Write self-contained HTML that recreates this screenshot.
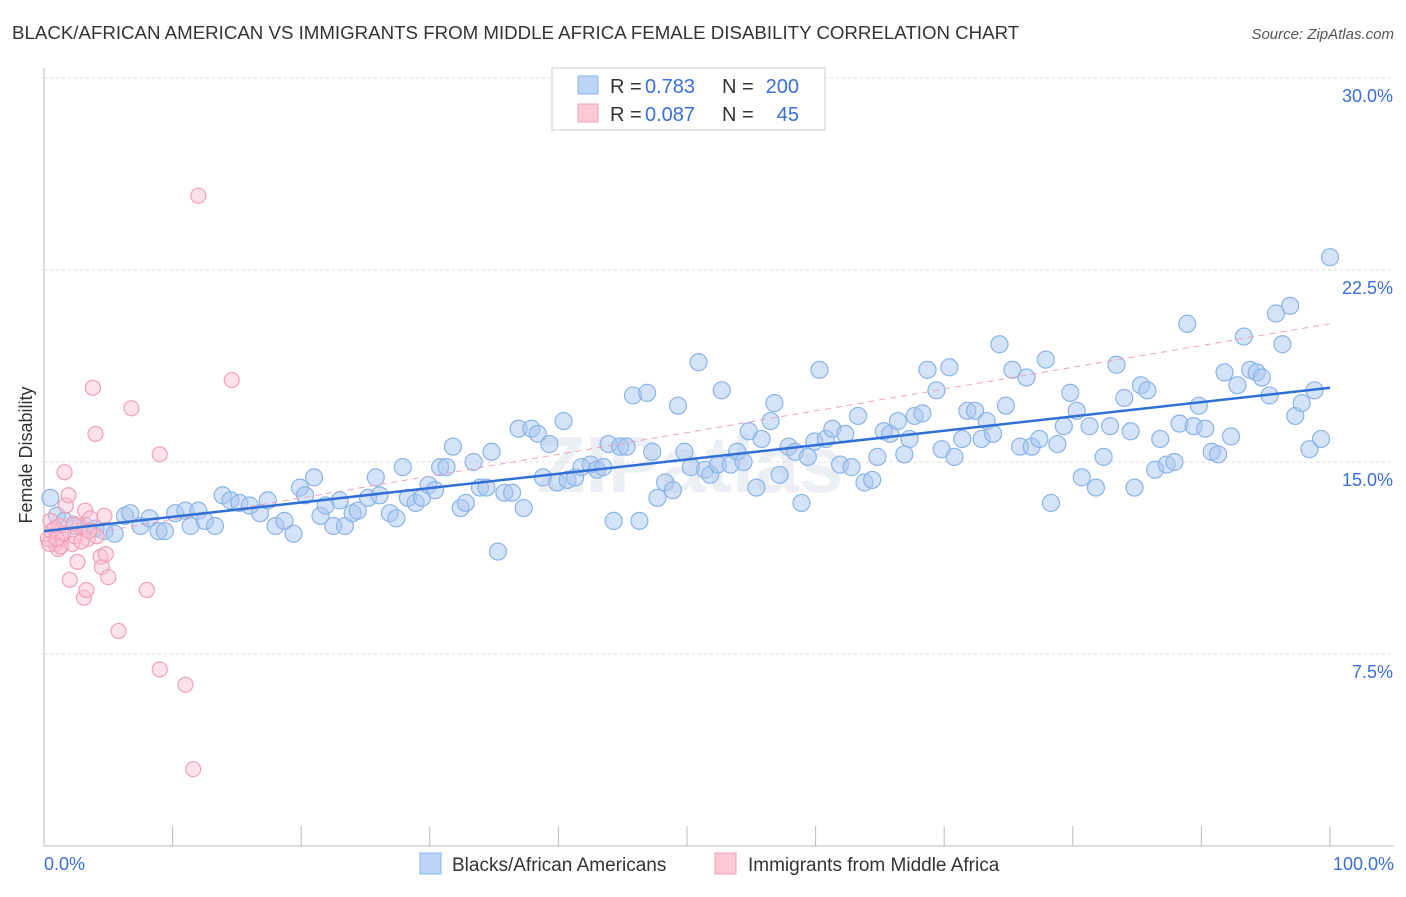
<!DOCTYPE html>
<html><head><meta charset="utf-8"><style>
body{margin:0;background:#fff;font-family:"Liberation Sans",sans-serif;}
</style></head><body>
<svg id="chart" width="1406" height="892" xmlns="http://www.w3.org/2000/svg">
<text x="12" y="39" font-size="18.7" fill="#333">BLACK/AFRICAN AMERICAN VS IMMIGRANTS FROM MIDDLE AFRICA FEMALE DISABILITY CORRELATION CHART</text>
<text x="1394" y="39" font-size="15" fill="#555" font-style="italic" text-anchor="end">Source: ZipAtlas.com</text>
<text x="32" y="455" font-size="18" fill="#333" text-anchor="middle" transform="rotate(-90 32 455)">Female Disability</text>
<text x="690" y="492" font-size="80" fill="#eceff3" text-anchor="middle" font-weight="bold">ZIPatlas</text>
<g id="grid"></g><g id="pts"></g><g id="lines"></g>
<g>
<rect x="552" y="68" width="273" height="62" fill="#fff" stroke="#ccc"/>
<rect x="578" y="76" width="20" height="18" fill="#bcd4f5" stroke="#8ab4e8"/>
<rect x="578" y="104" width="20" height="18" fill="#fbc8d6" stroke="#f0a0b8"/>
<text x="610" y="93" font-size="20" fill="#333">R = </text>
<text x="645" y="93" font-size="20" fill="#3a6fd8">0.783</text>
<text x="722" y="93" font-size="20" fill="#333">N =</text>
<text x="799" y="93" font-size="20" fill="#3a6fd8" text-anchor="end">200</text>
<text x="610" y="121" font-size="20" fill="#333">R = </text>
<text x="645" y="121" font-size="20" fill="#3a6fd8">0.087</text>
<text x="722" y="121" font-size="20" fill="#333">N =</text>
<text x="799" y="121" font-size="20" fill="#3a6fd8" text-anchor="end">45</text>
</g>
<g>
<rect x="420" y="853" width="21" height="21" fill="#bcd4f5" stroke="#8ab4e8"/>
<text x="452" y="871" font-size="19" fill="#333">Blacks/African Americans</text>
<rect x="715" y="853" width="21" height="21" fill="#fbc8d6" stroke="#f0a0b8"/>
<text x="748" y="871" font-size="19" fill="#333">Immigrants from Middle Africa</text>
</g>
</svg>
<script>
const yTicks=[7.5,15,22.5,30];
const xTickLabels=["0.0%","100.0%"];
const blueX=[0.5,1.0,1.6,2.4,3.2,4.0,4.7,5.5,6.3,6.7,7.5,8.2,8.9,9.4,10.2,11.0,11.4,12.0,12.5,13.3,13.9,14.5,15.2,16.0,16.8,17.4,18.0,18.7,19.4,19.9,20.3,21.0,21.5,21.9,22.5,23.0,23.4,24.0,24.4,25.2,25.8,26.1,26.9,27.4,27.9,28.3,28.9,29.4,29.9,30.4,30.8,31.3,31.8,32.4,32.8,33.4,33.9,34.4,34.8,35.3,35.8,36.4,36.9,37.3,37.9,38.4,38.8,39.3,39.9,40.4,40.7,41.3,41.8,42.5,43.0,43.5,43.9,44.3,44.8,45.3,45.8,46.3,46.9,47.3,47.7,48.3,48.9,49.3,49.8,50.3,50.9,51.4,51.8,52.4,52.7,53.4,53.9,54.4,54.8,55.4,55.8,56.5,56.8,57.2,57.9,58.4,58.9,59.4,59.9,60.3,60.8,61.3,61.9,62.3,62.8,63.3,63.8,64.4,64.8,65.3,65.8,66.4,66.9,67.3,67.7,68.3,68.7,69.4,69.8,70.4,70.8,71.4,71.8,72.4,72.9,73.3,73.8,74.3,74.8,75.3,75.9,76.4,76.8,77.4,77.9,78.3,78.8,79.3,79.8,80.3,80.7,81.3,81.8,82.4,82.9,83.4,84.0,84.5,84.8,85.3,85.8,86.4,86.8,87.3,87.9,88.3,88.9,89.4,89.8,90.3,90.8,91.3,91.8,92.3,92.8,93.3,93.8,94.3,94.7,95.3,95.8,96.3,96.9,97.3,97.8,98.4,98.8,99.3,100];
const blueY=[13.6,12.9,12.7,12.5,12.5,12.4,12.3,12.2,12.9,13.0,12.5,12.8,12.3,12.3,13.0,13.1,12.5,13.1,12.7,12.5,13.7,13.5,13.4,13.3,13.0,13.5,12.5,12.7,12.2,14.0,13.7,14.4,12.9,13.3,12.5,13.5,12.5,13.0,13.1,13.6,14.4,13.7,13.0,12.8,14.8,13.6,13.4,13.6,14.1,13.9,14.8,14.8,15.6,13.2,13.4,15.0,14.0,14.0,15.4,11.5,13.8,13.8,16.3,13.2,16.3,16.1,14.4,15.7,14.2,16.6,14.3,14.4,14.8,14.9,14.7,14.8,15.7,12.7,15.6,15.6,17.6,12.7,17.7,15.4,13.6,14.2,13.9,17.2,15.4,14.8,18.9,14.7,14.5,14.9,17.8,14.9,15.4,15.0,16.2,14.0,15.9,16.6,17.3,14.5,15.6,15.4,13.4,15.2,15.8,18.6,15.9,16.3,14.9,16.1,14.8,16.8,14.2,14.3,15.2,16.2,16.1,16.6,15.3,15.9,16.8,16.9,18.6,17.8,15.5,18.7,15.2,15.9,17.0,17.0,15.9,16.6,16.1,19.6,17.2,18.6,15.6,18.3,15.6,15.9,19.0,13.4,15.7,16.4,17.7,17.0,14.4,16.4,14.0,15.2,16.4,18.8,17.5,16.2,14.0,18.0,17.8,14.7,15.9,14.9,15.0,16.5,20.4,16.4,17.2,16.3,15.4,15.3,18.5,16.0,18.0,19.9,18.6,18.5,18.3,17.6,20.8,19.6,21.1,16.8,17.3,15.5,17.8,15.9,23.0];
const pinkX=[0.5,0.6,0.9,1.1,1.2,1.4,1.6,1.7,1.9,2.0,2.2,2.4,2.6,2.8,3.1,3.2,3.3,3.4,3.6,3.8,4.0,4.1,4.4,4.5,4.7,4.8,5.0,5.8,6.8,8.0,9.0,9.0,11.0,11.6,12.0,14.6,0.3,0.8,1.3,1.5,2.3,2.9,3.5,0.4,1.0];
const pinkY=[12.7,12.3,11.8,11.6,12.5,12.0,14.6,13.3,13.7,10.4,11.8,12.1,11.1,12.5,9.7,13.1,10.0,12.0,12.8,17.9,16.1,12.1,11.3,10.9,12.9,11.4,10.5,8.4,17.1,10.0,15.3,6.9,6.3,3.0,25.4,18.2,12.0,12.4,11.7,12.2,12.6,11.9,12.3,11.8,12.0];
const blueFit=[12.3,17.9];
const pinkFit=[11.9,20.4];
const X0=44,X1=1330,Y0=846,PY=25.6;
const sx=v=>X0+(X1-X0)*v/100, sy=v=>Y0-v*PY;
const NS="http://www.w3.org/2000/svg";
function mk(t,a,p){const e=document.createElementNS(NS,t);for(const k in a)e.setAttribute(k,a[k]);p.appendChild(e);return e;}
const grid=document.getElementById('grid');
yTicks.forEach(t=>{
 const l=mk('line',{x1:44,x2:1394,y1:sy(t),y2:sy(t),stroke:'#ddd','stroke-dasharray':'3,3'},grid);
 
 
 const tx=mk('text',{x:1393,y:sy(t)+24,'font-size':18,fill:'#3a6fd8','text-anchor':'end'},grid);
 tx.textContent=t.toFixed(1)+'%';
 
 
});
const ax=mk('line',{x1:44,x2:1394,y1:846,y2:846,stroke:'#bbb'},grid);


const ay=mk('line',{x1:44,x2:44,y1:68,y2:846,stroke:'#bbb'},grid);


for(let i=0;i<=10;i++){const t=mk('line',{x1:sx(i*10),x2:sx(i*10),y1:826,y2:846,stroke:'#bbb'},grid);
 
 }
[[0,xTickLabels[0],'start',44],[1,xTickLabels[1],'end',1394]].forEach(d=>{
 const t=mk('text',{x:d[3],y:870,'font-size':18,fill:'#3a6fd8','text-anchor':d[2]},grid);t.textContent=d[1];
 
 });
const pts=document.getElementById('pts');
blueX.forEach((x,i)=>{const c=mk('circle',{cx:sx(x),cy:sy(blueY[i]),r:8.5,fill:'rgba(170,200,240,0.5)',stroke:'#8ab4e8','stroke-width':1.2},pts);
 
 });
pinkX.forEach((x,i)=>{const c=mk('circle',{cx:sx(x),cy:sy(pinkY[i]),r:7.5,fill:'rgba(250,190,210,0.45)',stroke:'#f0a0b8','stroke-width':1.2},pts);
 
 });
const lines=document.getElementById('lines');
const pl=mk('line',{x1:sx(0),y1:sy(pinkFit[0]),x2:sx(100),y2:sy(pinkFit[1]),stroke:'#f0a0b8','stroke-width':1,'stroke-dasharray':'6,5'},lines);


const bl=mk('line',{x1:sx(0),y1:sy(blueFit[0]),x2:sx(100),y2:sy(blueFit[1]),stroke:'#2f6fd6','stroke-width':2.5},lines);


</script>
</body></html>
